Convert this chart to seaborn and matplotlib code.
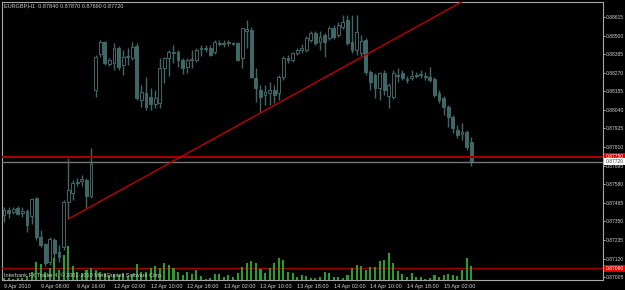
import numpy as np
import pandas as pd
import matplotlib
matplotlib.use('Agg')
import matplotlib.pyplot as plt
import matplotlib.transforms as mtransforms
import seaborn as sns

# EURGBP H1 bars, 9 Apr 2010 00:00 .. 15 Apr 2010 (prices)
symbol = 'EURGBP,H1'
opens = [0.87389, 0.87420, 0.87408, 0.87432, 0.87402, 0.87414, 0.87383, 0.87494, 0.87253, 0.87210,
         0.87098, 0.87234, 0.87160, 0.87191, 0.87470, 0.87525, 0.87587, 0.87600, 0.87606, 0.87507,
         0.88163, 0.88386, 0.88460, 0.88324, 0.88330, 0.88423, 0.88318, 0.88367, 0.88361, 0.88435,
         0.88101, 0.88144, 0.88120, 0.88076, 0.88082, 0.88299, 0.88361, 0.88392, 0.88398, 0.88349,
         0.88305, 0.88349, 0.88349, 0.88417, 0.88423, 0.88423, 0.88398, 0.88454, 0.88448, 0.88460,
         0.88454, 0.88454, 0.88361, 0.88528, 0.88534, 0.88237, 0.88163, 0.88132, 0.88144, 0.88163,
         0.88144, 0.88243, 0.88361, 0.88349, 0.88392, 0.88410, 0.88410, 0.88472, 0.88516, 0.88460,
         0.88503, 0.88485, 0.88547, 0.88503, 0.88553, 0.88596, 0.88460, 0.88410, 0.88392, 0.88472,
         0.88274, 0.88256, 0.88175, 0.88268, 0.88126, 0.88120, 0.88256, 0.88268, 0.88225, 0.88237,
         0.88256, 0.88256, 0.88250, 0.88243, 0.88231, 0.88144, 0.88113, 0.88058, 0.87996, 0.87915,
         0.87891, 0.87903, 0.87840]
highs = [0.87439, 0.87439, 0.87439, 0.87445, 0.87439, 0.87426, 0.87494, 0.87501, 0.87296, 0.87216,
         0.87253, 0.87247, 0.87203, 0.87482, 0.87742, 0.87606, 0.87618, 0.87637, 0.87618, 0.87804,
         0.88380, 0.88472, 0.88466, 0.88361, 0.88454, 0.88435, 0.88410, 0.88423, 0.88460, 0.88454,
         0.88194, 0.88243, 0.88175, 0.88163, 0.88361, 0.88367, 0.88410, 0.88441, 0.88410, 0.88361,
         0.88361, 0.88410, 0.88423, 0.88441, 0.88441, 0.88441, 0.88472, 0.88472, 0.88472, 0.88472,
         0.88460, 0.88460, 0.88547, 0.88596, 0.88553, 0.88299, 0.88194, 0.88194, 0.88212, 0.88194,
         0.88256, 0.88373, 0.88380, 0.88398, 0.88423, 0.88448, 0.88497, 0.88528, 0.88528, 0.88528,
         0.88516, 0.88559, 0.88565, 0.88584, 0.88627, 0.88627, 0.88627, 0.88627, 0.88503, 0.88485,
         0.88287, 0.88268, 0.88274, 0.88287, 0.88206, 0.88287, 0.88299, 0.88287, 0.88250, 0.88287,
         0.88274, 0.88287, 0.88274, 0.88305, 0.88243, 0.88163, 0.88126, 0.88070, 0.88008, 0.87946,
         0.87959, 0.87915, 0.87870]
lows = [0.87346, 0.87371, 0.87395, 0.87389, 0.87377, 0.87284, 0.87333, 0.87234, 0.87191, 0.87073,
        0.87080, 0.87111, 0.87098, 0.87172, 0.87364, 0.87482, 0.87569, 0.87569, 0.87432, 0.87494,
        0.88120, 0.88367, 0.88318, 0.88311, 0.88287, 0.88287, 0.88256, 0.88318, 0.88349, 0.88101,
        0.88058, 0.88039, 0.88039, 0.88051, 0.88051, 0.88206, 0.88250, 0.88330, 0.88305, 0.88262,
        0.88268, 0.88299, 0.88336, 0.88373, 0.88398, 0.88373, 0.88386, 0.88435, 0.88429, 0.88435,
        0.88441, 0.88342, 0.88299, 0.88423, 0.88237, 0.88089, 0.88021, 0.88070, 0.88070, 0.88082,
        0.88101, 0.88225, 0.88330, 0.88336, 0.88380, 0.88392, 0.88398, 0.88460, 0.88441, 0.88410,
        0.88367, 0.88472, 0.88479, 0.88491, 0.88540, 0.88441, 0.88392, 0.88380, 0.88373, 0.88256,
        0.88163, 0.88113, 0.88101, 0.88132, 0.88051, 0.88107, 0.88212, 0.88225, 0.88206, 0.88225,
        0.88237, 0.88237, 0.88225, 0.88212, 0.88120, 0.88082, 0.88008, 0.87934, 0.87897, 0.87866,
        0.87853, 0.87791, 0.87690]
closes = [0.87420, 0.87402, 0.87426, 0.87395, 0.87414, 0.87327, 0.87488, 0.87253, 0.87203, 0.87092,
          0.87241, 0.87154, 0.87129, 0.87470, 0.87544, 0.87587, 0.87593, 0.87612, 0.87507, 0.87705,
          0.88367, 0.88460, 0.88330, 0.88349, 0.88423, 0.88305, 0.88367, 0.88373, 0.88429, 0.88113,
          0.88151, 0.88058, 0.88076, 0.88113, 0.88299, 0.88361, 0.88398, 0.88398, 0.88349, 0.88299,
          0.88349, 0.88355, 0.88410, 0.88423, 0.88417, 0.88380, 0.88460, 0.88448, 0.88454, 0.88454,
          0.88448, 0.88349, 0.88547, 0.88540, 0.88243, 0.88175, 0.88120, 0.88151, 0.88163, 0.88132,
          0.88243, 0.88361, 0.88349, 0.88392, 0.88410, 0.88423, 0.88485, 0.88516, 0.88454, 0.88491,
          0.88460, 0.88547, 0.88491, 0.88565, 0.88584, 0.88454, 0.88410, 0.88522, 0.88466, 0.88274,
          0.88212, 0.88175, 0.88268, 0.88163, 0.88194, 0.88268, 0.88250, 0.88237, 0.88231, 0.88250,
          0.88250, 0.88262, 0.88243, 0.88225, 0.88132, 0.88101, 0.88058, 0.87996, 0.87928, 0.87884,
          0.87903, 0.87810, 0.87720]
volumes = [80, 80, 40, 80, 80, 160, 320, 720, 640, 320, 480, 880, 400, 1000, 1360, 560, 320, 240, 400, 480,
           400, 320, 280, 200, 240, 200, 280, 160, 240, 640, 320, 320, 480, 560, 480, 680, 600, 480, 320, 200,
           320, 240, 400, 160, 40, 80, 240, 240, 120, 200, 120, 280, 520, 680, 760, 680, 440, 280, 480, 680,
           880, 800, 320, 280, 120, 200, 160, 80, 80, 120, 320, 280, 120, 120, 80, 200, 480, 600, 560, 400,
           520, 520, 760, 800, 1080, 680, 360, 240, 120, 280, 120, 120, 40, 80, 200, 120, 200, 240, 200, 160,
           400, 880, 560]

price_ticks = [0.87005, 0.87120, 0.87235, 0.87350, 0.87465, 0.87580, 0.87695, 0.87810,
               0.87925, 0.88040, 0.88155, 0.88270, 0.88385, 0.88500, 0.88615]
time_tick_bars = [0, 8, 16, 24, 32, 40, 48, 56, 64, 72, 80, 88, 96]
time_tick_labels = ['9 Apr 2010', '9 Apr 08:00', '9 Apr 16:00', '12 Apr 02:00', '12 Apr 10:00',
                    '12 Apr 18:00', '13 Apr 02:00', '13 Apr 10:00', '13 Apr 18:00', '14 Apr 02:00',
                    '14 Apr 10:00', '14 Apr 18:00', '15 Apr 02:00']

level_high = 0.87750
level_low = 0.87060
bid = 0.87720
trend_from, trend_to = 14, 56   # bars whose lows anchor the red ray

df = pd.DataFrame({'open': opens, 'high': highs, 'low': lows, 'close': closes, 'volume': volumes})
df['bar'] = np.arange(len(df))
df['up'] = df['close'] >= df['open']

candle_col = '#3e6868'
txt_col = '#d0d0d0'
fs = 4.0
fs_y = 3.6

sns.set_style('dark', {'axes.facecolor': 'black', 'figure.facecolor': 'black'})
plt.rcParams['font.family'] = ['Liberation Sans', 'DejaVu Sans']

fig = plt.figure(figsize=(6.25, 2.9), dpi=100, facecolor='black')
ax = fig.add_axes([2 / 625, 10 / 290, 601 / 625, 278 / 290])
ax.set_facecolor('black')

# volumes at the bottom of the chart
vax = ax.twinx()
sns.barplot(data=df, x='bar', y='volume', native_scale=True, color='#26a026', saturation=1,
            width=0.45, edgecolor='none', linewidth=0, ax=vax)
vax.set_ylim(0, 11120)
vax.set_yticks([])
vax.set_ylabel('')
vax.set_xlabel('')
for s in vax.spines.values():
    s.set_visible(False)

# candles
ax.vlines(df['bar'], df['low'], df['high'], color=candle_col, lw=1, zorder=2)
body_lo = df[['open', 'close']].min(axis=1)
body_h = (df['close'] - df['open']).abs()
ax.bar(df['bar'], body_h, bottom=body_lo, width=0.62,
       color=np.where(df['up'], 'black', candle_col), edgecolor=candle_col, linewidth=0.7, zorder=3)

# horizontal levels
ax.axhline(level_high, color='#a00000', lw=1.5, zorder=4)
ax.axhline(bid, color='#767676', lw=1, zorder=4)
ax.axhline(level_low, color='#a00000', lw=1, zorder=4)

# trend ray from low to low, extended to the right
x_end = 135
slope = (df['low'][trend_to] - df['low'][trend_from]) / (trend_to - trend_from)
ax.plot([trend_from, x_end], [df['low'][trend_from], df['low'][trend_from] + slope * (x_end - trend_from)],
        color='#c00000', lw=1, zorder=4)

ax.set_xlim(-0.45, 130.8)
ax.set_ylim(0.86987, 0.88708)
ax.yaxis.tick_right()
ax.set_yticks(price_ticks, [f'{p:.5f}' for p in price_ticks])
ax.set_xticks(time_tick_bars, time_tick_labels)
for lbl in ax.get_xticklabels():
    lbl.set_ha('left')
ax.tick_params(axis='x', colors=txt_col, labelsize=fs, length=2, width=0.6, pad=1)
ax.tick_params(axis='y', colors=txt_col, labelsize=fs_y, length=1.5, width=0.6, pad=0.8,
               left=False, right=True)
ax.grid(False)
for s in ax.spines.values():
    s.set_visible(True)
    s.set_color('#a8a8a8')
    s.set_linewidth(0.8)

# price labels on the right scale
trans = mtransforms.blended_transform_factory(ax.transAxes, ax.transData)
for val, fc, tc in [(level_high, '#e00000', 'white'), (bid, 'white', '#404040'), (level_low, '#e00000', 'white')]:
    ax.text(1.004, val, f'{val:.5f}', transform=trans, ha='left', va='center', color=tc, fontsize=fs_y,
            bbox=dict(boxstyle='square,pad=0.2', fc=fc, ec='none'), clip_on=False, zorder=10)

fig.text(4 / 625, 1 - 3 / 290,
         f'{symbol}  {opens[-1]:.5f} {highs[-1]:.5f} {lows[-1]:.5f} {closes[-1]:.5f}',
         color=txt_col, fontsize=fs, va='top', ha='left', zorder=20)
fig.text(4 / 625, 1 - 272 / 290, 'Interbank FX Trader 4, \u00a9 2001-2010 MetaQuotes Software Corp.',
         color=txt_col, fontsize=fs, va='top', ha='left', zorder=20)

fig.savefig('out.png', dpi=100, facecolor='black')
